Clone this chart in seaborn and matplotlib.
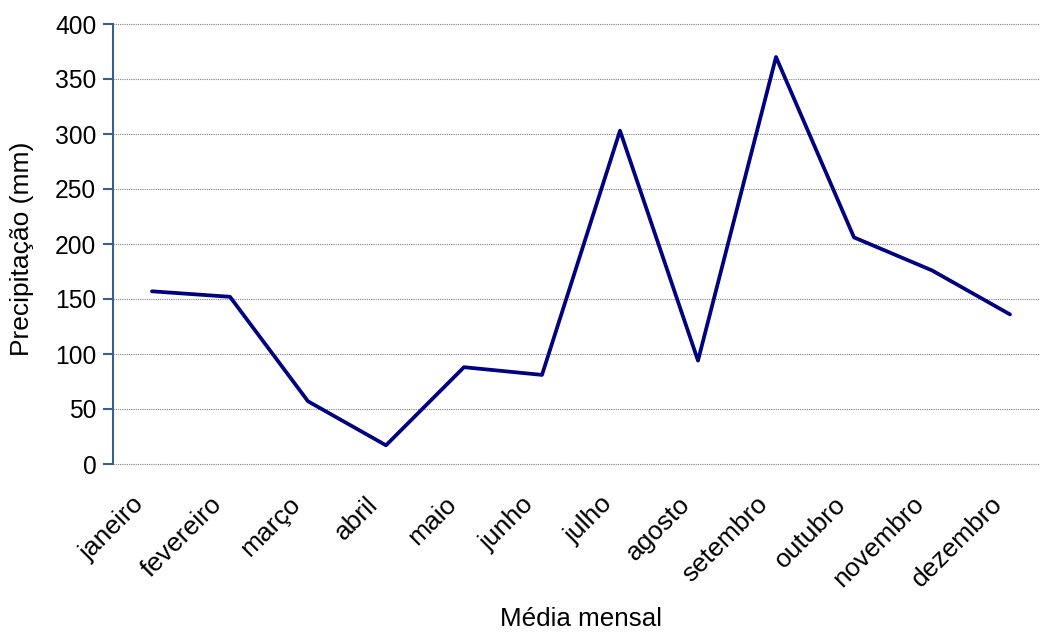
import matplotlib
matplotlib.use('Agg')
import matplotlib.pyplot as plt
import matplotlib.transforms as mtransforms
import seaborn as sns

# Dados: precipitação média mensal (mm)
meses = ['janeiro', 'fevereiro', 'março', 'abril', 'maio', 'junho',
         'julho', 'agosto', 'setembro', 'outubro', 'novembro', 'dezembro']
precipitacao = [157, 152, 57, 17, 88, 81, 303, 94, 370, 206, 176, 136]
y_ticks = [0, 50, 100, 150, 200, 250, 300, 350, 400]

sns.set_style('white')
plt.rcParams['font.family'] = ['Liberation Sans', 'DejaVu Sans']
plt.rcParams['text.color'] = 'black'
plt.rcParams['xtick.color'] = 'black'
plt.rcParams['ytick.color'] = 'black'
plt.rcParams['axes.labelcolor'] = 'black'

fig = plt.figure(figsize=(10.4, 6.32), dpi=100)
ax = fig.add_axes([113 / 1040, 1 - 464 / 632, 936 / 1040, 440 / 632])

sns.lineplot(x=meses, y=precipitacao, sort=False, color='#000080',
             linewidth=2.7, ax=ax)

ax.set_xlim(-0.5, 11.5)
ax.set_ylim(0, 400)
ax.set_yticks(y_ticks)
ax.yaxis.grid(True, linestyle=(0, (1, 1)), color='#808080', linewidth=0.8)
ax.set_axisbelow(True)
for gl in ax.get_ygridlines():
    gl.set_clip_on(False)

for s in ['top', 'right', 'bottom']:
    ax.spines[s].set_visible(False)
ax.spines['left'].set_color('#3a5f8f')
ax.spines['left'].set_linewidth(1.5)

ax.tick_params(axis='y', which='major', length=7, width=1.5, color='#3a5f8f',
               direction='out', labelsize=17.7, pad=5, left=True)
ax.tick_params(axis='x', length=0, labelsize=19, pad=10)

# rótulos dos meses inclinados, deslocados um pouco para a esquerda/baixo
offset = mtransforms.ScaledTranslation(-0.2, -0.14, fig.dpi_scale_trans)
for lbl in ax.get_xticklabels():
    lbl.set_rotation(45)
    lbl.set_ha('right')
    lbl.set_rotation_mode('anchor')
    lbl.set_transform(lbl.get_transform() + offset)

ax.set_ylabel('Precipitação (mm)', fontsize=19)
ax.yaxis.set_label_coords(-(113 - 34) / 936, 0.49)
ax.set_xlabel('Média mensal', fontsize=18.7)
ax.xaxis.set_label_coords(0.5, -(607 - 464) / 440)

fig.savefig('out.png', dpi=100)
